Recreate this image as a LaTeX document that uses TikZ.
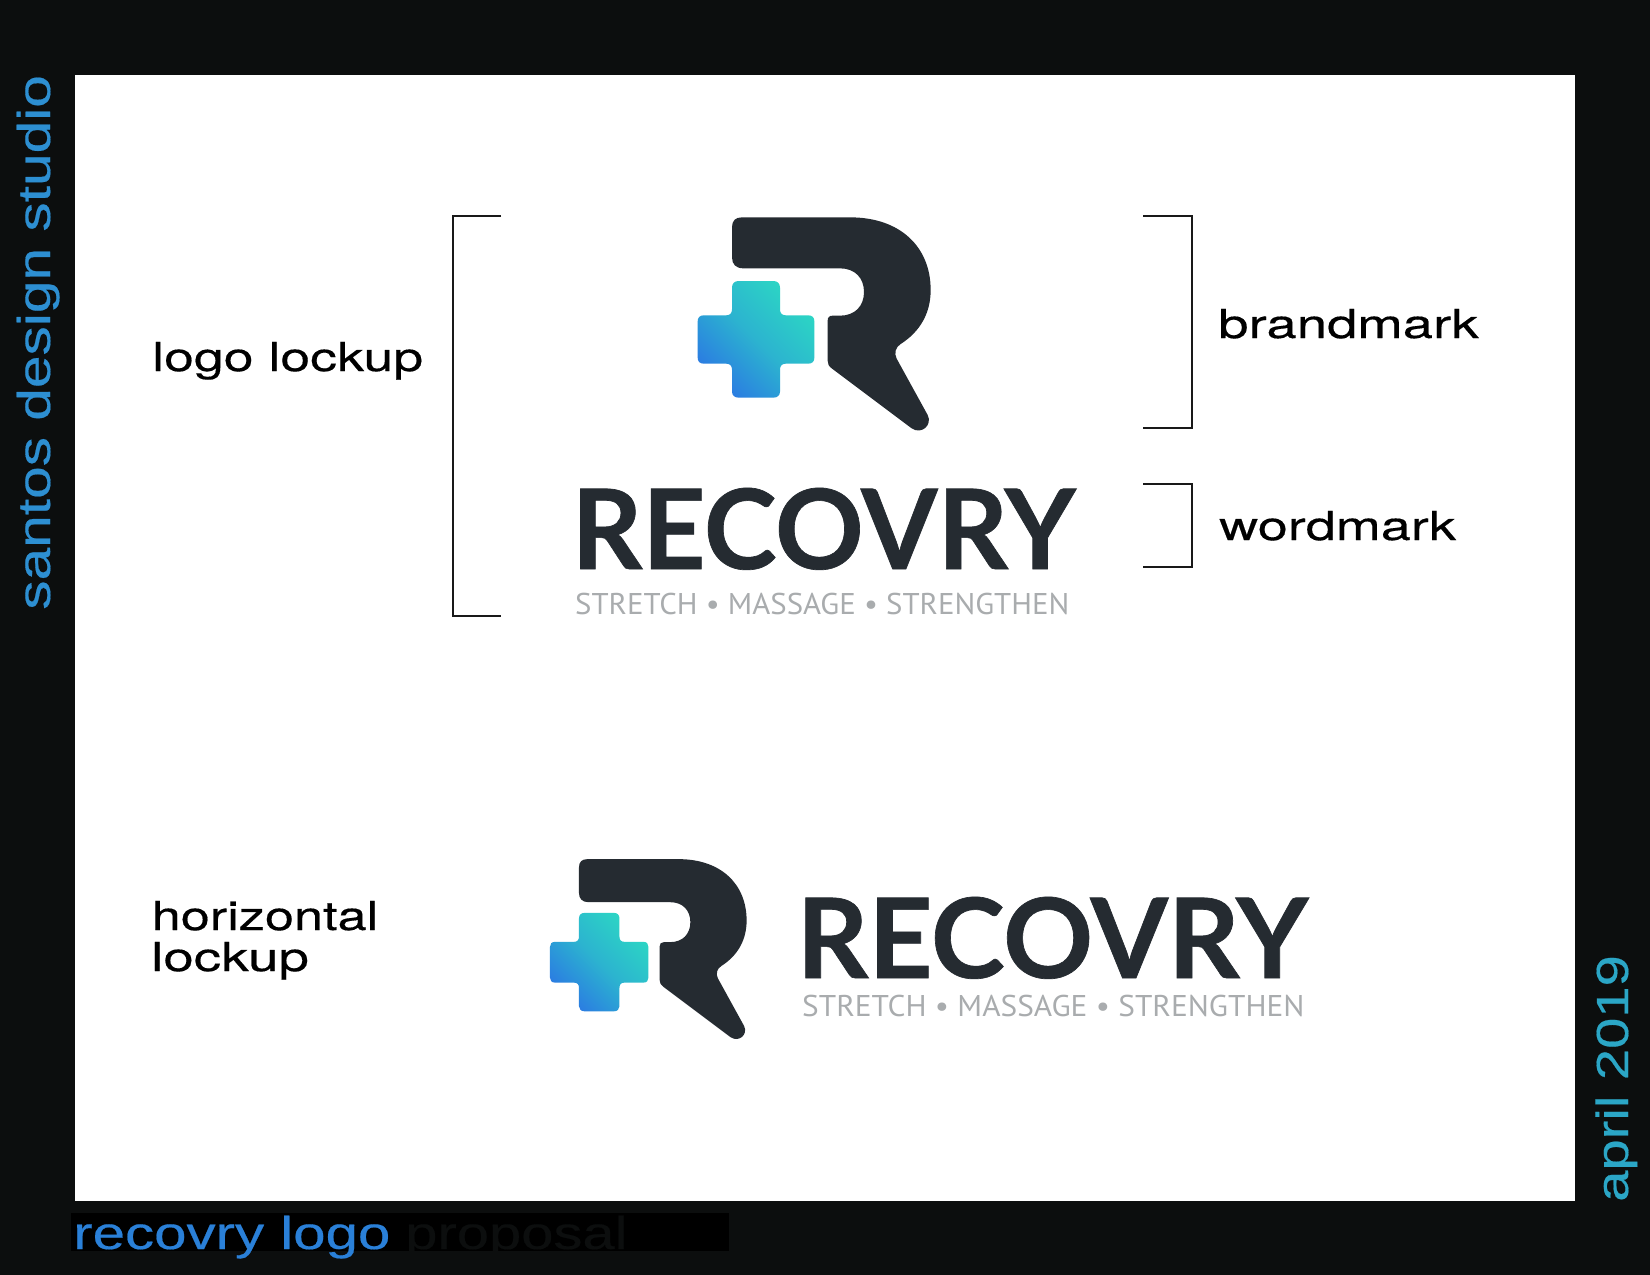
\documentclass[tikz,border=0pt]{standalone}
\usepackage{fontspec}
\setmainfont{Liberation Sans}[FakeBold=0.35]
\newfontfamily\wordfont{Lato}[BoldFeatures={FakeBold=0.6}]
\newfontfamily\tagfont{PT Sans}
\newfontfamily\labelfont{TeX Gyre Heros}[FakeBold=0.3]
\definecolor{pagebg}{HTML}{0C0E0E}
\definecolor{slate}{HTML}{252B31}
\definecolor{taggrey}{HTML}{A9ACAE}
\definecolor{crossblue}{HTML}{2B7BE2}
\definecolor{crossteal}{HTML}{2CD6C4}
\definecolor{studioblue}{HTML}{2D8FD2}
\definecolor{aprilteal}{HTML}{2BA6C6}
\definecolor{titleblue}{HTML}{2A80D8}
\tikzset{
  x=1pt,y=-1pt,
  bracketline/.style={draw=black!90,line width=2pt},
  lab/.style={anchor=base west,inner sep=0pt,font=\labelfont\fontsize{40}{40}\selectfont,text=black},
  wordm/.style={anchor=base west,inner sep=0pt,text=slate},
  tagm/.style={anchor=base west,inner sep=0pt,text=taggrey},
  sidetext/.style={anchor=base west,inner sep=0pt,rotate=90},
}
\newcommand{\logomark}[3]{%
  \begin{scope}[shift={(#1,#2)},x=#3pt,y=-#3pt]
    \fill[slate] (216,82) .. controls (216,62) and (226,52) .. (246,52)
      -- (570,52) .. controls (720,52) and (812,140) .. (812,270)
      .. controls (812,340) and (780,395) .. (722,432)
      .. controls (706,442) and (702,460) .. (710,476)
      -- (803,645) .. controls (818,675) and (785,705) .. (755,685)
      -- (515,505) .. controls (506,498) and (503,492) .. (503,482)
      -- (503,362) .. controls (503,352) and (508,347) .. (518,347)
      -- (540,347) .. controls (585,347) and (612,318) .. (612,276)
      .. controls (612,234) and (585,205) .. (540,205)
      -- (250,205) .. controls (228,205) and (216,193) .. (216,172) -- cycle;
    \shade[bottom color=crossblue,top color=crossteal,middle color=crossteal!62!crossblue,shading angle=-45]
      (216,263) .. controls (216,250) and (224,243) .. (236,243)
      -- (340,243) .. controls (352,243) and (360,250) .. (360,263)
      -- (360,328) .. controls (360,340) and (366,346) .. (378,346)
      -- (445,346) .. controls (457,346) and (463,353) .. (463,364)
      -- (463,473) .. controls (463,484) and (457,491) .. (445,491)
      -- (378,491) .. controls (366,491) and (360,497) .. (360,509)
      -- (360,575) .. controls (360,586) and (352,593) .. (340,593)
      -- (236,593) .. controls (224,593) and (216,586) .. (216,575)
      -- (216,509) .. controls (216,497) and (210,491) .. (198,491)
      -- (131,491) .. controls (119,491) and (113,484) .. (113,473)
      -- (113,364) .. controls (113,353) and (119,346) .. (131,346)
      -- (198,346) .. controls (210,346) and (216,340) .. (216,328) -- cycle;
  \end{scope}}
\begin{document}
\begin{tikzpicture}
\useasboundingbox (0,0) rectangle (1650,1275);
\fill[pagebg] (0,0) rectangle (1650,1275);
\fill[white] (75,75) rectangle (1575,1200.5);
\logomark{660}{200}{0.33333}
\logomark{518.2}{844.5}{0.2813}
\node[wordm,xscale=0.99] (w1) at (571.5,569) {\wordfont\bfseries\fontsize{111}{111}\selectfont RECOVRY};
\node[tagm,xscale=1.028] (t1) at (575,614) {\tagfont\fontsize{30}{30}\selectfont STRETCH • MASSAGE • STRENGTHEN};
\node[wordm,xscale=1.005] (w2) at (796.5,978) {\wordfont\bfseries\fontsize{111}{111}\selectfont RECOVRY};
\node[tagm,xscale=1.045] (t2) at (802,1016) {\tagfont\fontsize{30}{30}\selectfont STRETCH • MASSAGE • STRENGTHEN};
\coordinate (a1) at (501,215.7);\coordinate (a2) at (452.7,215.7);\coordinate (a3) at (452.7,615.5);\coordinate (a4) at (501,615.5);
\draw[bracketline] (a1)--(a2)--(a3)--(a4);
\coordinate (b1) at (1143.3,215.7);\coordinate (b2) at (1191.7,215.7);\coordinate (b3) at (1191.7,428);\coordinate (b4) at (1143.3,428);
\draw[bracketline] (b1)--(b2)--(b3)--(b4);
\coordinate (c1) at (1143.3,484);\coordinate (c2) at (1191.7,484);\coordinate (c3) at (1191.7,567.3);\coordinate (c4) at (1143.3,567.3);
\draw[bracketline] (c1)--(c2)--(c3)--(c4);
\node[lab,xscale=1.34] (l1) at (152,371) {logo lockup};
\node[lab,xscale=1.362] (l2) at (1218,338) {brandmark};
\node[lab,xscale=1.35] (l3) at (1219,540) {wordmark};
\node[lab,xscale=1.306] (l4) at (151.5,930) {horizontal};
\node[lab,xscale=1.366] (l5) at (151,971) {lockup};
\node[sidetext,text=studioblue,font=\fontsize{46}{46}\selectfont,xscale=1.275] (s1) at (50,610) {santos design studio};
\node[sidetext,text=aprilteal,font=\fontsize{45}{45}\selectfont,xscale=1.248] (s2) at (1628,1202) {april 2019};
\fill[black] (71,1213) rectangle (729,1251);
\node[anchor=base west,inner sep=0pt,text=titleblue,font=\fontsize{46}{46}\selectfont,xscale=1.266] (t3) at (73,1249) {recovry logo};
\node[anchor=base west,inner sep=0pt,text=pagebg,font=\fontsize{46}{46}\selectfont,xscale=1.26] (t4) at (405,1249) {proposal};
\end{tikzpicture}
\end{document}
